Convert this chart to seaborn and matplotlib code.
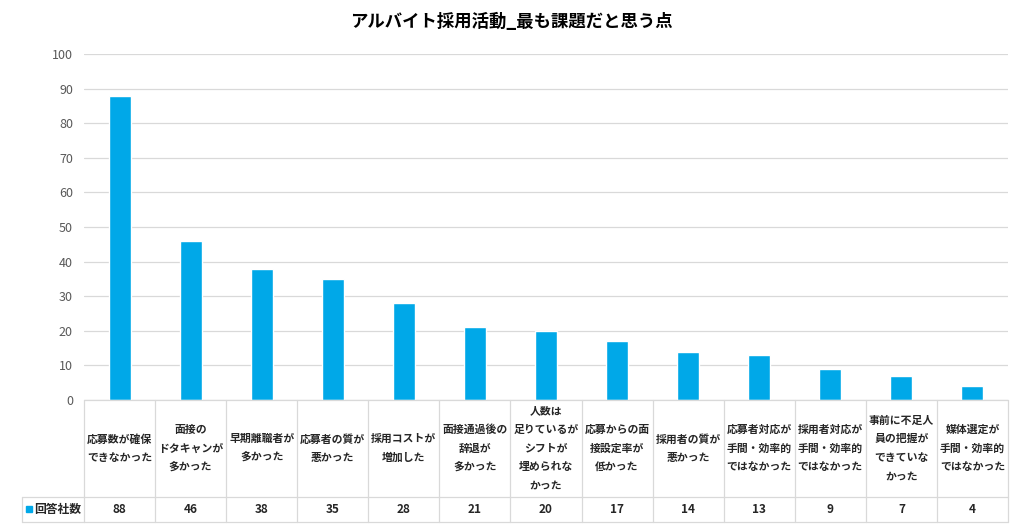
import numpy as np
import pandas as pd
import matplotlib
matplotlib.use('Agg')
import matplotlib.pyplot as plt
import matplotlib.transforms as mtrans
from matplotlib.lines import Line2D
from matplotlib.patches import Rectangle
import seaborn as sns

categories = [
    '応募数が確保\nできなかった',
    '面接の\nドタキャンが\n多かった',
    '早期離職者が\n多かった',
    '応募者の質が\n悪かった',
    '採用コストが\n増加した',
    '面接通過後の\n辞退が\n多かった',
    '人数は\n足りているが\nシフトが\n埋められな\nかった',
    '応募からの面\n接設定率が\n低かった',
    '採用者の質が\n悪かった',
    '応募者対応が\n手間・効率的\nではなかった',
    '採用者対応が\n手間・効率的\nではなかった',
    '事前に不足人\n員の把握が\nできていな\nかった',
    '媒体選定が\n手間・効率的\nではなかった',
]
counts = [88, 46, 38, 35, 28, 21, 20, 17, 14, 13, 9, 7, 4]
series_name = '回答社数'
title = 'アルバイト採用活動_最も課題だと思う点'
yticks = [0, 10, 20, 30, 40, 50, 60, 70, 80, 90, 100]

bar_color = '#00A8E8'
grid_color = '#d9d9d9'

sns.set_style('white')
plt.rcParams['font.family'] = ['Noto Sans CJK JP', 'DejaVu Sans']

W, H = 1024, 529
fig = plt.figure(figsize=(W / 100, H / 100), dpi=100)
ax = fig.add_axes([84 / W, 1 - 400 / H, (1008 - 84) / W, (400 - 54) / H])

df = pd.DataFrame({'cat': categories, 'n': counts})
sns.barplot(data=df, x='cat', y='n', color=bar_color, width=0.31,
            saturation=1, ax=ax, zorder=3)

ax.set_ylim(0, 100)
ax.set_xlim(-0.5, len(categories) - 0.5)
ax.set_yticks(yticks)
ax.set_yticklabels([str(v) for v in yticks], color='#595959', fontsize=9)
ax.tick_params(axis='y', length=0, pad=8)
ax.set_xticks([])
ax.set_xlabel('')
ax.set_ylabel('')
ax.grid(axis='y', color=grid_color, linewidth=0.9, zorder=0)
for s in ['top', 'right', 'left', 'bottom']:
    ax.spines[s].set_visible(False)

fig.text(511 / W, 1 - 22 / H, title, ha='center', va='center',
         fontsize=12.5, fontweight='bold', color='#000000')

# data table under the chart
y0, y1, y2 = 1 - 400 / H, 1 - 497 / H, 1 - 522 / H
x_left, x_right = 84 / W, 1008 / W
lw = 0.9
for yy in (y0, y1, y2):
    fig.add_artist(Line2D([x_left, x_right], [yy, yy], color=grid_color, lw=lw))
fig.add_artist(Line2D([22 / W, x_left], [y1, y1], color=grid_color, lw=lw))
fig.add_artist(Line2D([22 / W, x_left], [y2, y2], color=grid_color, lw=lw))
fig.add_artist(Line2D([22 / W, 22 / W], [y1, y2], color=grid_color, lw=lw))

blend = mtrans.blended_transform_factory(ax.transData, fig.transFigure)
for i in range(len(categories) + 1):
    fig.add_artist(Line2D([i - 0.5, i - 0.5], [y0, y2], color=grid_color,
                          lw=lw, transform=blend))
for i, (c, n) in enumerate(zip(categories, counts)):
    fig.text(i, (y0 + y1) / 2, c, transform=blend, ha='center', va='center',
             fontsize=7.8, fontweight='bold', linespacing=2.05, color='#262626')
    fig.text(i, (y1 + y2) / 2, str(n), transform=blend, ha='center',
             va='center', fontsize=8.5, fontweight='bold', color='#262626')

fig.add_artist(Rectangle((26 / W, 1 - 512 / H), 6 / W, 6 / H,
                         color=bar_color, transform=fig.transFigure))
fig.text(34 / W, (y1 + y2) / 2, series_name, ha='left', va='center',
         fontsize=8.5, fontweight='bold', color='#262626')

fig.savefig('out.png', dpi=100)
